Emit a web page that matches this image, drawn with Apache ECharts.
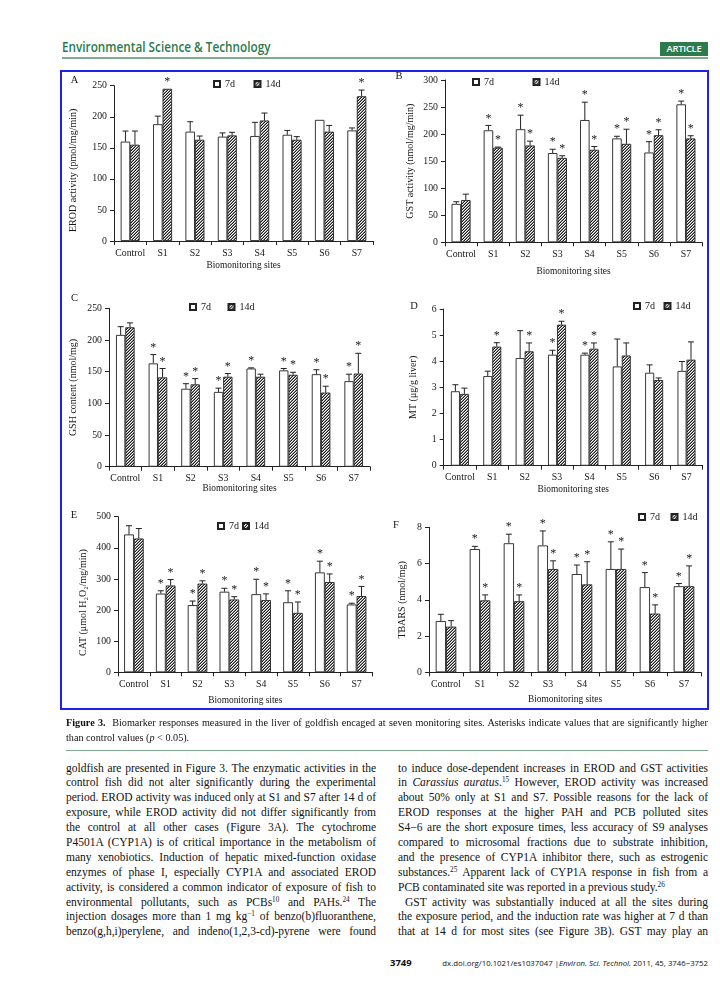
<!DOCTYPE html>
<html><head><meta charset="utf-8">
<script src="https://cdn.jsdelivr.net/npm/echarts@6/dist/echarts.min.js"></script>
<style>
html,body{margin:0;padding:0;background:#fff;}
body{width:720px;height:1000px;position:relative;overflow:hidden;font-family:"Liberation Serif",serif;color:#111;}
.abs{position:absolute;}
#jname{left:62px;top:38px;font-family:"Open Sans",sans-serif;font-weight:600;font-size:14px;line-height:17px;color:#2b7a4a;white-space:nowrap;transform:scaleX(0.84);transform-origin:0 0;}
#hrule{left:62px;top:57px;width:646px;height:1.5px;background:#7fab8e;}
#article{left:660px;top:42px;width:48px;height:14px;background:#2d7a4d;color:#fff;font-family:"Open Sans",sans-serif;font-weight:600;font-size:9.3px;line-height:14px;text-align:center;letter-spacing:-0.2px;}
#figbox{left:60px;top:70px;width:649px;height:640px;box-sizing:border-box;border:2px solid #2020e6;}
#chart{left:0;top:0;width:720px;height:720px;}
#caption{left:66px;top:716px;width:642px;font-size:10.2px;line-height:14.5px;}
#crule{left:66px;top:749.5px;width:642px;height:1.3px;background:#7fab8e;}
.col{top:760.5px;width:310px;font-size:11.5px;line-height:14.9px;}
#lcol{left:66px;}
#rcol{left:398px;}
.ln{text-align:justify;text-align-last:justify;height:14.9px;white-space:nowrap;}
.ln.last{text-align:left;text-align-last:left;}
.ind{padding-left:7px;}
sup{font-size:7.2px;line-height:0;vertical-align:4px;}
#pnum{left:390px;top:956px;font-family:"Open Sans",sans-serif;font-weight:700;font-size:9.5px;line-height:13px;}
#doi{right:12px;top:957px;font-family:"Open Sans",sans-serif;font-size:7.8px;line-height:12px;white-space:nowrap;}
</style></head><body>
<div id="jname" class="abs">Environmental Science &amp; Technology</div>
<div id="article" class="abs">ARTICLE</div>
<div id="hrule" class="abs"></div>
<div id="figbox" class="abs"></div>
<div id="chart" class="abs"></div>
<div id="caption" class="abs">
<div class="ln"><b>Figure 3.</b>&nbsp; Biomarker responses measured in the liver of goldfish encaged at seven monitoring sites. Asterisks indicate values that are significantly higher</div>
<div class="ln last">than control values (<i>p</i> &lt; 0.05).</div>
</div>
<div id="crule" class="abs"></div>
<div id="lcol" class="abs col">
<div class="ln">goldfish are presented in Figure 3. The enzymatic activities in the</div>
<div class="ln">control fish did not alter significantly during the experimental</div>
<div class="ln">period. EROD activity was induced only at S1 and S7 after 14 d of</div>
<div class="ln">exposure, while EROD activity did not differ significantly from</div>
<div class="ln">the control at all other cases (Figure 3A). The cytochrome</div>
<div class="ln">P4501A (CYP1A) is of critical importance in the metabolism of</div>
<div class="ln">many xenobiotics. Induction of hepatic mixed-function oxidase</div>
<div class="ln">enzymes of phase I, especially CYP1A and associated EROD</div>
<div class="ln">activity, is considered a common indicator of exposure of fish to</div>
<div class="ln">environmental pollutants, such as PCBs<sup>10</sup> and PAHs.<sup>24</sup> The</div>
<div class="ln">injection dosages more than 1 mg kg<sup>−1</sup> of benzo(b)fluoranthene,</div>
<div class="ln">benzo(g,h,i)perylene, and indeno(1,2,3-cd)-pyrene were found</div>
</div>
<div id="rcol" class="abs col">
<div class="ln">to induce dose-dependent increases in EROD and GST activities</div>
<div class="ln">in <i>Carassius auratus</i>.<sup>15</sup> However, EROD activity was increased</div>
<div class="ln">about 50% only at S1 and S7. Possible reasons for the lack of</div>
<div class="ln">EROD responses at the higher PAH and PCB polluted sites</div>
<div class="ln">S4−6 are the short exposure times, less accuracy of S9 analyses</div>
<div class="ln">compared to microsomal fractions due to substrate inhibition,</div>
<div class="ln">and the presence of CYP1A inhibitor there, such as estrogenic</div>
<div class="ln">substances.<sup>25</sup> Apparent lack of CYP1A response in fish from a</div>
<div class="ln last">PCB contaminated site was reported in a previous study.<sup>26</sup></div>
<div class="ln ind">GST activity was substantially induced at all the sites during</div>
<div class="ln">the exposure period, and the induction rate was higher at 7 d than</div>
<div class="ln">that at 14 d for most sites (see Figure 3B). GST may play an</div>
</div>
<div id="pnum" class="abs">3749</div>
<div id="doi" class="abs">dx.doi.org/10.1021/es1037047 |<i>Environ. Sci. Technol.</i> 2011, 45, 3746−3752</div>
<script>
// ---------- DATA ----------
const categories = ['Control','S1','S2','S3','S4','S5','S6','S7'];
const legendNames = ['7d','14d'];

// A: EROD activity (pmol/mg/min)
const erod7      = [160,188,176,168,169,171,195,178];
const erod7Err   = [17,13,16,6,22,7,0,4];
const erod14     = [155,245,163,170,194,163,176,233];
const erod14Err  = [22,0,6,5,12,5,10,10];
const erod7Star  = [0,0,0,0,0,0,0,0];
const erod14Star = [0,1,0,0,0,0,0,1];

// B: GST activity (nmol/mg/min)
const gst7      = [71,207,209,165,226,192,166,255];
const gst7Err   = [4,9,26,7,33,4,20,6];
const gst14     = [78,175,179,156,171,182,198,192];
const gst14Err  = [11,1,8,4,6,27,10,5];
const gst7Star  = [0,1,1,1,1,1,1,1];
const gst14Star = [0,1,1,1,1,1,1,1];

// C: GSH content (nmol/mg)
const gsh7      = [208,163,123,118,155,152,146,135];
const gsh7Err   = [13,14,8,6,1,3,7,11];
const gsh14     = [220,141,130,142,142,145,117,147];
const gsh14Err  = [7,14,9,5,4,4,10,32];
const gsh7Star  = [0,1,1,1,1,1,1,1];
const gsh14Star = [0,1,1,1,0,1,1,1];

// D: MT (µg/g liver)
const mt7      = [2.85,3.43,4.12,4.25,4.25,3.8,3.56,3.63];
const mt7Err   = [0.25,0.19,1.05,0.17,0.06,1.05,0.3,0.36];
const mt14     = [2.75,4.56,4.38,5.4,4.48,4.22,3.28,4.06];
const mt14Err  = [0.22,0.15,0.32,0.13,0.22,0.48,0.08,0.68];
const mt7Star  = [0,0,0,1,1,0,0,0];
const mt14Star = [0,1,1,1,1,0,0,0];

// E: CAT (µmol H2O2/mg/min)
const cat7      = [443,253,216,259,251,225,321,218];
const cat7Err   = [28,9,13,11,48,37,36,4];
const cat14     = [430,279,285,234,232,191,290,245];
const cat14Err  = [32,19,9,9,20,35,26,31];
const cat7Star  = [0,1,1,1,1,1,1,1];
const cat14Star = [0,1,1,1,1,1,1,1];

// F: TBARS (nmol/mg)
const tb7      = [2.83,6.8,7.12,7.0,5.42,5.7,4.7,4.75];
const tb7Err   = [0.37,0.15,0.5,0.8,0.5,1.5,0.8,0.15];
const tb14     = [2.52,3.97,3.92,5.7,4.85,5.7,3.24,4.75];
const tb14Err  = [0.33,0.3,0.35,0.45,1.25,1.1,0.48,1.12];
const tb7Star  = [0,1,1,1,1,1,1,1];
const tb14Star = [0,1,1,1,1,1,1,1];

const yNames = ['EROD activity (pmol/mg/min)','GST activity (nmol/mg/min)','GSH content (nmol/mg)','MT (μg/g liver)','CAT (μmol H₂O₂/mg/min)','TBARS (nmol/mg)'];
const xNames = ['Biomonitoring sites','Biomonitoring sites','Biomonitoring sites','Biomonitoring stes','Biomonitoring sites','Biomonitoring sites'];
const letters = ['A','B','C','D','E','F'];

const panelData = [
  {v7:erod7,e7:erod7Err,s7:erod7Star,v14:erod14,e14:erod14Err,s14:erod14Star,max:250,step:50},
  {v7:gst7,e7:gst7Err,s7:gst7Star,v14:gst14,e14:gst14Err,s14:gst14Star,max:300,step:50},
  {v7:gsh7,e7:gsh7Err,s7:gsh7Star,v14:gsh14,e14:gsh14Err,s14:gsh14Star,max:250,step:50},
  {v7:mt7,e7:mt7Err,s7:mt7Star,v14:mt14,e14:mt14Err,s14:mt14Star,max:6,step:1},
  {v7:cat7,e7:cat7Err,s7:cat7Star,v14:cat14,e14:cat14Err,s14:cat14Star,max:500,step:100},
  {v7:tb7,e7:tb7Err,s7:tb7Star,v14:tb14,e14:tb14Err,s14:tb14Star,max:8,step:2}
];

// ---------- LAYOUT ----------
const layout = [
  {grid:[114,85.7,259,155.3],bw:9.5,yGap:36,yShift:14,xGap:20,letter:[74.5,80],leg:[213,79,18.5]},
  {grid:[445,80,257,162.3],bw:9.5,yGap:30,yShift:0,xGap:25,letter:[399,76],leg:[472,77,38.5]},
  {grid:[109,308.3,261,158.4],bw:9.3,yGap:31,yShift:0,xGap:17,letter:[74.5,298.5],leg:[189,302,16.5]},
  {grid:[443.7,309,259,156.7],bw:9,yGap:25,yShift:0,xGap:19,letter:[414,306.5],leg:[633,301,8.5]},
  {grid:[118,516.7,254.5,155.6],bw:9.8,yGap:30,yShift:16,xGap:24,letter:[74,515],leg:[217,521,3]},
  {grid:[429,527.3,272,145],bw:10.3,yGap:22,yShift:0,xGap:23,letter:[396,525],leg:[638,512,10.5]}
];

const FONT = 'Liberation Serif';
const INK = '#161616';

function makeHatch(){
  const c=document.createElement('canvas'); c.width=3; c.height=3;
  const ctx=c.getContext('2d');
  ctx.fillStyle='#fff'; ctx.fillRect(0,0,3,3);
  for(let x=0;x<3;x++) for(let y=0;y<3;y++){
    const k=(x+y)%3;
    if(k===2){ctx.fillStyle='#1c1c1c';ctx.fillRect(x,y,1,1);}
    else if(k===1){ctx.fillStyle='#8c8c8c';ctx.fillRect(x,y,1,1);}
  }
  return c;
}
const hatchFill = {image:makeHatch(), repeat:'repeat'};

function errSeries(g, vals, errs, stars, side, bw){
  return {
    type:'custom', xAxisIndex:g, yAxisIndex:g, silent:true, z:5, clip:false,
    data: vals.map((v,i)=>[i, v, errs[i], stars[i]]),
    encode:{x:0,y:1},
    renderItem(params, api){
      const i=api.value(0), v=api.value(1), e=api.value(2), s=api.value(3);
      const base=api.coord([i,v]);
      const top=api.coord([i,v+e]);
      const x=base[0]+side*bw/2;
      const ch=[];
      if(e>0){
        ch.push({type:'line',shape:{x1:x,y1:base[1],x2:x,y2:top[1]},style:{stroke:'#222',lineWidth:1}});
        ch.push({type:'line',shape:{x1:x-3,y1:top[1],x2:x+3,y2:top[1]},style:{stroke:'#222',lineWidth:1}});
      }
      if(s){
        ch.push({type:'text',x:x,y:top[1]-7,style:{text:'*',fill:'#1a1a1a',font:'12px "'+FONT+'"',align:'center',verticalAlign:'middle'}});
      }
      return {type:'group',children:ch};
    }
  };
}

const grids=[],xAxes=[],yAxes=[],series=[],legends=[],graphics=[];
layout.forEach((L,g)=>{
  const P=panelData[g];
  grids.push({left:L.grid[0],top:L.grid[1],width:L.grid[2],height:L.grid[3],containLabel:false,outerBoundsMode:'none'});
  xAxes.push({gridIndex:g,type:'category',data:categories,
    axisLine:{show:true,lineStyle:{color:'#222',width:1}},
    axisTick:{show:true,length:4,inside:false,lineStyle:{color:'#222'}},
    axisLabel:{interval:0,color:INK,fontFamily:FONT,fontSize:9.8,margin:7},
    name:xNames[g],nameLocation:'middle',nameGap:L.xGap,nameMoveOverlap:false,
    nameTextStyle:{color:INK,fontFamily:FONT,fontSize:9.4,verticalAlign:'top'}});
  yAxes.push({gridIndex:g,type:'value',min:0,max:P.max,interval:P.step,
    axisLine:{show:true,lineStyle:{color:'#222',width:1}},
    axisTick:{show:true,length:4,inside:false,lineStyle:{color:'#222'}},
    splitLine:{show:false},
    axisLabel:{color:INK,fontFamily:FONT,fontSize:9.8,margin:7},
    name:yNames[g],nameLocation:'middle',nameGap:L.yGap,nameMoveOverlap:false,
    nameTextStyle:{color:INK,fontFamily:FONT,fontSize:10,padding:[0,L.yShift,0,0]}});
  series.push({type:'bar',name:legendNames[0],xAxisIndex:g,yAxisIndex:g,data:P.v7,barWidth:L.bw,barGap:'0%',silent:true,
    itemStyle:{color:'#fff',borderColor:'#222',borderWidth:0.9}});
  series.push({type:'bar',name:legendNames[1],xAxisIndex:g,yAxisIndex:g,data:P.v14,barWidth:L.bw,barGap:'0%',silent:true,
    itemStyle:{color:hatchFill,borderColor:'#222',borderWidth:0.9}});
  series.push(errSeries(g,P.v7,P.e7,P.s7,-1,L.bw));
  series.push(errSeries(g,P.v14,P.e14,P.s14,1,L.bw));
  legends.push({data:legendNames,left:L.leg[0],top:L.leg[1],itemGap:L.leg[2],itemWidth:6,itemHeight:6,icon:'rect',
    selectedMode:false,padding:0,textStyle:{color:INK,fontFamily:FONT,fontSize:10}});
  graphics.push({type:'text',x:L.letter[0],y:L.letter[1],style:{text:letters[g],fill:INK,font:'10.5px "'+FONT+'"',align:'center',verticalAlign:'middle'}});
});

const chart=echarts.init(document.getElementById('chart'),null,{renderer:'canvas'});
chart.setOption({animation:false,backgroundColor:'transparent',grid:grids,xAxis:xAxes,yAxis:yAxes,series:series,legend:legends,graphic:graphics});

// fit each justified text line within its column
document.querySelectorAll('.ln').forEach(el=>{
  const w=el.clientWidth - (el.classList.contains('ind')?7:0);
  const s=document.createElement('span');
  s.innerHTML=el.innerHTML;
  s.style.cssText='position:absolute;visibility:hidden;white-space:nowrap;';
  el.appendChild(s);
  const nw=s.getBoundingClientRect().width;
  el.removeChild(s);
  if(nw>w-1){
    const n=el.textContent.length;
    el.style.letterSpacing=(-(nw-w+2)/n)+'px';
  }
});
</script>
</body></html>
